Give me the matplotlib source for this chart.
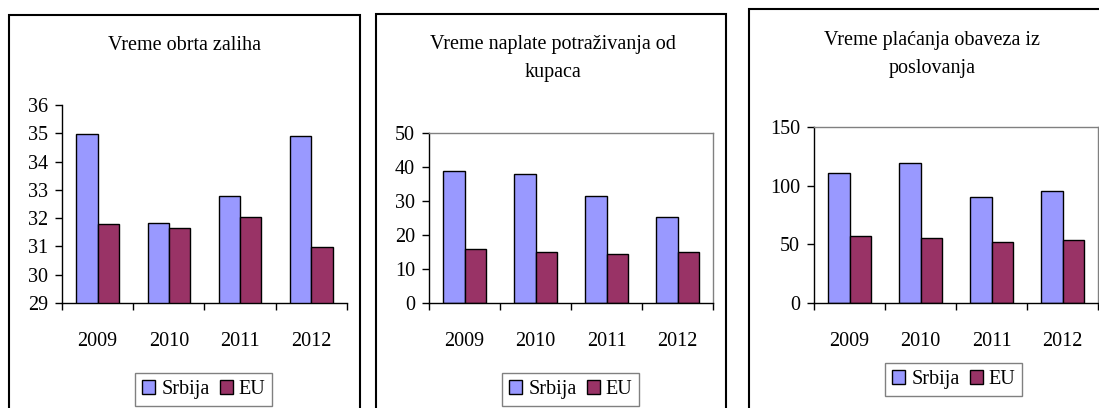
import matplotlib.pyplot as plt
import numpy as np
from matplotlib.patches import Rectangle

plt.rcParams['font.family'] = ['Liberation Serif', 'DejaVu Serif']

godine = ['2009', '2010', '2011', '2012']

zalihe_srbija = [34.98, 31.84, 32.79, 34.89]
zalihe_eu = [31.78, 31.64, 32.04, 30.97]

kupci_srbija = [38.7, 37.9, 31.5, 25.4]
kupci_eu = [15.9, 14.9, 14.4, 14.9]

obaveze_srbija = [111.1, 119.6, 90.7, 95.3]
obaveze_eu = [56.7, 55.6, 52.2, 53.3]

naslovi = ['Vreme obrta zaliha',
           'Vreme naplate potraživanja od\nkupaca',
           'Vreme plaćanja obaveza iz\nposlovanja']

W, H = 1099, 408
fig = plt.figure(figsize=(W / 100, H / 100), dpi=100)

srb_boja = '#9999ff'
eu_boja = '#993366'
fs = 14.5


def px_rect(l, t, r, b):
    return [l / W, 1 - b / H, (r - l) / W, (b - t) / H]


def okvir(l, t, r, b, lw=1.5, color='black'):
    fig.patches.append(Rectangle((l / W, 1 - b / H), (r - l) / W, (b - t) / H,
                                 transform=fig.transFigure, fill=False,
                                 edgecolor=color, linewidth=lw))


def grafik(pos, srbija, eu, ylim, yticks, grey_frame, naslov, naslov_xy, leg_xy):
    ax = fig.add_axes(px_rect(*pos))
    x = np.arange(len(godine))
    w = 0.3
    ax.bar(x - w / 2, srbija, w, color=srb_boja, edgecolor='black', linewidth=1, label='Srbija')
    ax.bar(x + w / 2, eu, w, color=eu_boja, edgecolor='black', linewidth=1, label='EU')
    ax.set_xlim(-0.5, len(godine) - 0.5)
    ax.set_ylim(*ylim)
    ax.set_yticks(yticks)
    ax.set_xticks(x)
    ax.set_xticklabels(godine)
    ax.set_xticks(np.arange(len(godine) + 1) - 0.5, minor=True)
    ax.tick_params(axis='x', which='major', length=0, pad=21, labelsize=fs)
    ax.tick_params(axis='x', which='minor', length=5, width=1, direction='out')
    ax.tick_params(axis='y', length=5, width=1, pad=5, labelsize=fs)
    ax.spines['left'].set_linewidth(1)
    ax.spines['bottom'].set_linewidth(1)
    if grey_frame:
        for s in ['top', 'right']:
            ax.spines[s].set_color('#808080')
            ax.spines[s].set_linewidth(1)
    else:
        ax.spines['top'].set_visible(False)
        ax.spines['right'].set_visible(False)
    for i, line in enumerate(naslov.split('\n')):
        fig.text(naslov_xy[0] / W, 1 - (naslov_xy[1] + 28 * i) / H, line,
                 ha='center', va='center', fontsize=fs)
    leg = fig.legend(*ax.get_legend_handles_labels(), loc='upper left',
                     bbox_to_anchor=(leg_xy[0] / W, 1 - leg_xy[1] / H),
                     ncol=2, fontsize=fs, fancybox=False, framealpha=1,
                     edgecolor='#808080', handlelength=0.65, handleheight=0.65,
                     handletextpad=0.3, columnspacing=0.5, borderpad=0.35,
                     borderaxespad=0)
    leg.get_frame().set_linewidth(1)
    return ax


okvir(9, 15, 360, 412)
okvir(376, 14, 726, 412)
okvir(749, 9, 1104, 412)

grafik((62, 105, 347, 303), zalihe_srbija, zalihe_eu, (29, 36), range(29, 37),
       False, naslovi[0], (185, 45), (135, 373))
grafik((429, 133, 713, 303), kupci_srbija, kupci_eu, (0, 50), range(0, 51, 10),
       True, naslovi[1], (553, 45), (502, 373))
grafik((814, 127, 1098, 303), obaveze_srbija, obaveze_eu, (0, 150), range(0, 151, 50),
       True, naslovi[2], (932, 40), (885, 363))

fig.savefig('out.png', dpi=100)
